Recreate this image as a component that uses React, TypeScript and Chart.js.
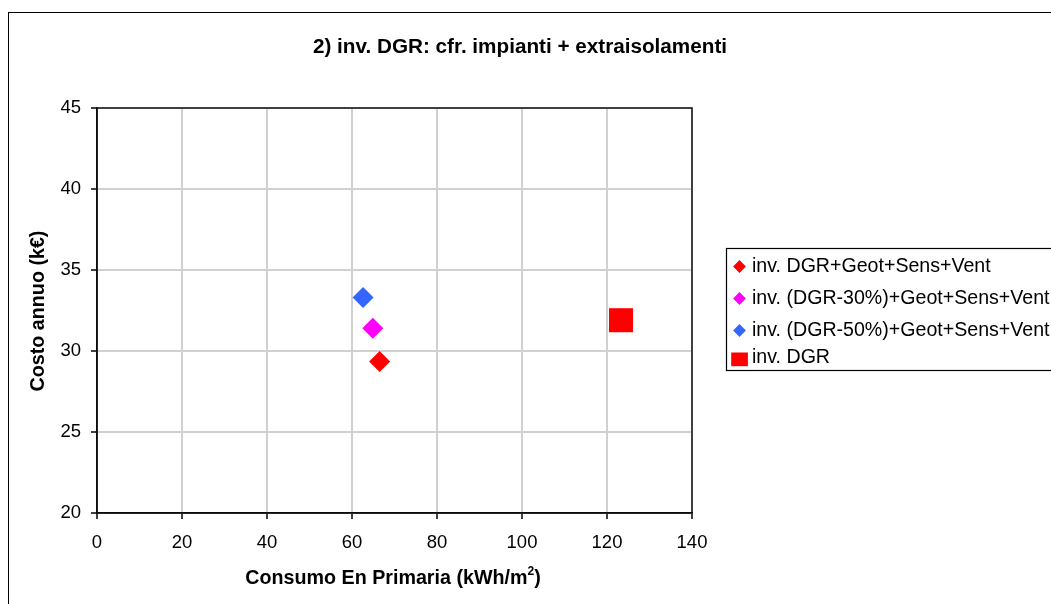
import React, { useEffect, useRef } from 'react';
import { Chart, registerables } from 'chart.js';

Chart.register(...registerables);

const seriesNames = [
  'inv. DGR+Geot+Sens+Vent',
  'inv. (DGR-30%)+Geot+Sens+Vent',
  'inv. (DGR-50%)+Geot+Sens+Vent',
  'inv. DGR',
];
const consumoValues = [66.5, 64.9, 62.6, 123.3];
const costoValues = [29.35, 31.4, 33.3, 31.9];
const seriesColors = ['#FF0000', '#FF00FF', '#3366FF', '#FF0000'];
const seriesMarkers = ['rectRot', 'rectRot', 'rectRot', 'rect'];
const xTickValues = [0, 20, 40, 60, 80, 100, 120, 140];
const yTickValues = [20, 25, 30, 35, 40, 45];
const chartTitle = '2) inv. DGR: cfr. impianti + extraisolamenti';
const xTitleMain = 'Consumo En Primaria (kWh/m';
const xTitleSup = '2';
const xTitleEnd = ')';
const yTitle = 'Costo annuo (k€)';

const FONT = '"Liberation Sans", Arial, sans-serif';

const decorPlugin = {
  id: 'decor',
  beforeDatasetsDraw(chart: any) {
    const { ctx, chartArea: a } = chart;
    ctx.save();
    ctx.strokeStyle = '#111';
    ctx.lineWidth = 1.5;
    ctx.strokeRect(a.left, a.top, a.right - a.left, a.bottom - a.top);
    ctx.restore();
  },
  afterDraw(chart: any) {
    const { ctx } = chart;
    ctx.save();
    // outer border
    ctx.strokeStyle = '#000';
    ctx.lineWidth = 1;
    ctx.strokeRect(0.5, 0.5, 1200, 800);

    // title
    ctx.fillStyle = '#000';
    ctx.textBaseline = 'middle';
    ctx.textAlign = 'center';
    ctx.font = `bold 20.7px ${FONT}`;
    ctx.fillText(chartTitle, 512, 35);

    // y title
    ctx.save();
    ctx.translate(31, 299);
    ctx.rotate(-Math.PI / 2);
    ctx.font = `bold 19.7px ${FONT}`;
    ctx.fillText(yTitle, 0, 0);
    ctx.restore();

    // x title with superscript
    ctx.font = `bold 19.7px ${FONT}`;
    const w1 = ctx.measureText(xTitleMain).width;
    const w3 = ctx.measureText(xTitleEnd).width;
    ctx.font = `bold 12px ${FONT}`;
    const w2 = ctx.measureText(xTitleSup).width;
    const total = w1 + w2 + w3;
    const x0 = 385 - total / 2;
    const ty = 567;
    ctx.textAlign = 'left';
    ctx.font = `bold 19.7px ${FONT}`;
    ctx.fillText(xTitleMain, x0, ty);
    ctx.font = `bold 12px ${FONT}`;
    ctx.fillText(xTitleSup, x0 + w1, ty - 7);
    ctx.font = `bold 19.7px ${FONT}`;
    ctx.fillText(xTitleEnd, x0 + w1 + w2, ty);

    // legend
    const lx = 718, ltop = 236, lbottom = 358;
    ctx.fillStyle = '#fff';
    ctx.fillRect(lx + 0.5, ltop + 0.5, 600, lbottom - ltop);
    ctx.strokeStyle = '#000';
    ctx.lineWidth = 1.2;
    ctx.strokeRect(lx + 0.5, ltop + 0.5, 600, lbottom - ltop);
    const rowOffsets = [18.5, 50.5, 82.5, 110];
    ctx.font = `19.6px ${FONT}`;
    ctx.textAlign = 'left';
    ctx.textBaseline = 'middle';
    seriesNames.forEach((name, i) => {
      const cy = ltop + rowOffsets[i];
      const cx = 731.5;
      ctx.fillStyle = seriesColors[i];
      if (seriesMarkers[i] === 'rect') {
        ctx.fillRect(cx - 8.3, cy - 5.5, 16.7, 13.7);
      } else {
        const r = 6.4;
        ctx.beginPath();
        ctx.moveTo(cx - r, cy);
        ctx.lineTo(cx, cy - r);
        ctx.lineTo(cx + r, cy);
        ctx.lineTo(cx, cy + r);
        ctx.closePath();
        ctx.fill();
      }
      ctx.fillStyle = '#000';
      ctx.fillText(name, 744, cy);
    });
    ctx.restore();
  },
};

export default function App() {
  const ref = useRef<HTMLCanvasElement | null>(null);
  useEffect(() => {
    if (!ref.current) return;
    const datasets = seriesNames.map((name, i) => ({
      label: name,
      data: [{ x: consumoValues[i], y: costoValues[i] }],
      backgroundColor: seriesColors[i],
      borderColor: seriesColors[i],
      pointStyle: seriesMarkers[i] as any,
      pointRadius: seriesMarkers[i] === 'rect' ? 17 : 10.5,
      pointBorderWidth: 0,
      showLine: false,
    }));
    const chart = new Chart(ref.current, {
      type: 'scatter',
      data: { datasets },
      options: {
        animation: false,
        responsive: false,
        devicePixelRatio: 1,
        layout: { padding: { left: 0, top: 96, right: 359, bottom: 0 } },
        plugins: {
          legend: { display: false },
          title: { display: false },
          tooltip: { enabled: false },
        },
        scales: {
          x: {
            type: 'linear',
            min: 0,
            max: 140,
            afterBuildTicks: (s: any) => {
              s.ticks = xTickValues.map((v) => ({ value: v }));
            },
            afterFit: (s: any) => {
              s.height = 91;
            },
            ticks: {
              color: '#000',
              font: { family: FONT, size: 18.5 },
              padding: 13,
              maxRotation: 0,
            },
            grid: {
              color: '#d0d0d0',
              lineWidth: 2,
              tickColor: '#000',
              tickLength: 6,
              tickWidth: 1.5,
            },
            border: { display: true, color: '#000', width: 1.5 },
          },
          y: {
            type: 'linear',
            min: 20,
            max: 45,
            afterBuildTicks: (s: any) => {
              s.ticks = yTickValues.map((v) => ({ value: v }));
            },
            afterFit: (s: any) => {
              s.width = 89;
            },
            ticks: {
              color: '#000',
              font: { family: FONT, size: 18.5 },
              padding: 10,
            },
            grid: {
              color: '#d0d0d0',
              lineWidth: 2,
              tickColor: '#000',
              tickLength: 6,
              tickWidth: 1.5,
            },
            border: { display: true, color: '#000', width: 1.5 },
          },
        },
      },
      plugins: [decorPlugin],
    });
    return () => chart.destroy();
  }, []);
  return (
    <div
      style={{
        position: 'fixed',
        left: 0,
        top: 0,
        width: 1051,
        height: 604,
        overflow: 'hidden',
        background: '#fff',
      }}
    >
      <canvas
        ref={ref}
        width={1043}
        height={592}
        style={{ position: 'absolute', left: 8, top: 12, width: 1043, height: 592 }}
      />
    </div>
  );
}
